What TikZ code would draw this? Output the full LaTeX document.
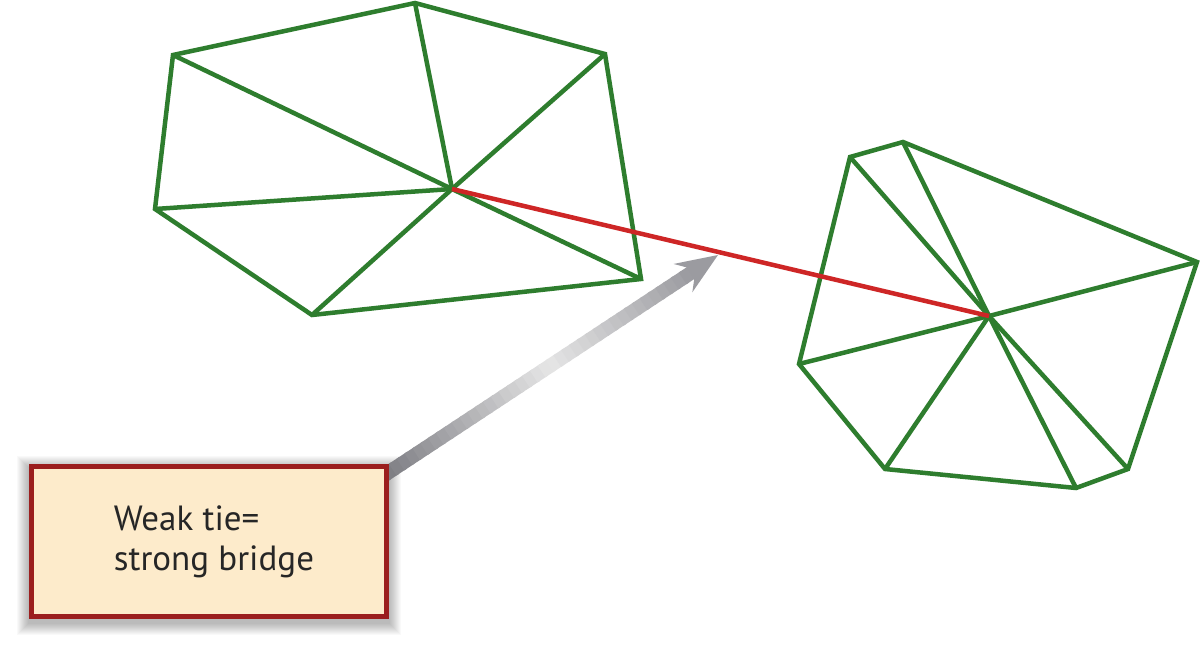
\documentclass[tikz,border=0pt]{standalone}
\usepackage{fontspec}
\setmainfont{PT Sans}
\usetikzlibrary{calc,backgrounds}
\definecolor{netgreen}{RGB}{46,125,46}
\definecolor{tiered}{RGB}{206,38,38}
\definecolor{boxfill}{RGB}{253,235,203}
\definecolor{boxline}{RGB}{155,30,30}
\definecolor{arrdark}{RGB}{120,120,126}
\definecolor{arrlight}{RGB}{230,230,230}
\definecolor{arrtip}{RGB}{155,155,160}
\begin{document}
\begin{tikzpicture}[x=1pt,y=-1pt,
  edge/.style={draw=netgreen,line width=4.5pt,line join=miter},
  bridge/.style={draw=tiered,line width=4.5pt},
  notebox/.style={draw=boxline,fill=boxfill,line width=5pt,
    minimum width=355pt,minimum height=150pt,align=left,
    font=\fontsize{35}{40}\selectfont,text=black!85}]
\useasboundingbox (0,0) rectangle (1201,645);
% left cluster
\coordinate (L1) at (173,55);
\coordinate (L2) at (415,3);
\coordinate (L3) at (605,54);
\coordinate (L4) at (641,279);
\coordinate (L5) at (312,315);
\coordinate (L6) at (155,209);
\coordinate (LH) at (452,189);
% right cluster
\coordinate (R1) at (850,157);
\coordinate (R2) at (903,142);
\coordinate (R3) at (1197,262);
\coordinate (R4) at (1128,469);
\coordinate (R5) at (1076,488);
\coordinate (R6) at (885,469);
\coordinate (R7) at (799,364);
\coordinate (RH) at (989,316);
\draw[edge] (L1)--(L2)--(L3)--(L4)--(L5)--(L6)--cycle;
\foreach \v in {L1,L2,L3,L4,L5,L6} \draw[edge] (LH)--(\v);
\draw[edge] (R1)--(R2)--(R3)--(R4)--(R5)--(R6)--(R7)--cycle;
\foreach \v in {R1,R2,R3,R4,R5,R6,R7} \draw[edge] (RH)--(\v);
\draw[bridge] (LH)--(RH);
% note box
\node[notebox,anchor=north west] (box) at (29,464) {\hspace*{10pt}Weak tie=\\\hspace*{10pt}strong bridge};
\begin{pgfonlayer}{background}
  \fill[white] (0,0) rectangle (1201,645);
  \foreach \i in {1,...,12}
    \fill[black,opacity=0.022] ($(box.north west)+(-\i,-\i+4)$) rectangle ($(box.south east)+(\i,\i+4)$);
  \coordinate (T) at (718,255);
  \coordinate (S) at ($(box.north east)+(-12,16)$);
  \coordinate (hb) at ($(T)!42pt!(S)$);
  \coordinate (nb) at ($(T)!33pt!(S)$);
  \foreach \k in {0,...,39}{
    \pgfmathsetmacro{\ta}{\k/40}
    \pgfmathsetmacro{\tb}{(\k+1.3)/40}
    \pgfmathsetmacro{\tm}{(\k+0.5)/40}
    \pgfmathtruncatemacro{\p}{\tm<0.55 ? 100*\tm/0.55 : 100*(1-\tm)/0.45}
    \pgfmathtruncatemacro{\q}{\tm<0.55 ? 0 : 1}
    \ifnum\q=0
      \draw[line width=14pt,draw=arrlight!\p!arrdark] ($(S)!\ta!(nb)$) -- ($(S)!\tb!(nb)$);
    \else
      \draw[line width=14pt,draw=arrlight!\p!arrtip] ($(S)!\ta!(nb)$) -- ($(S)!\tb!(nb)$);
    \fi
  }
  \fill[arrtip] (T) -- ($(hb)!17pt!90:(S)$) -- ($(nb)!6.9pt!90:(S)$)
    -- ($(nb)!6.9pt!-90:(S)$) -- ($(hb)!17pt!-90:(S)$) -- cycle;
\end{pgfonlayer}
\end{tikzpicture}
\end{document}
